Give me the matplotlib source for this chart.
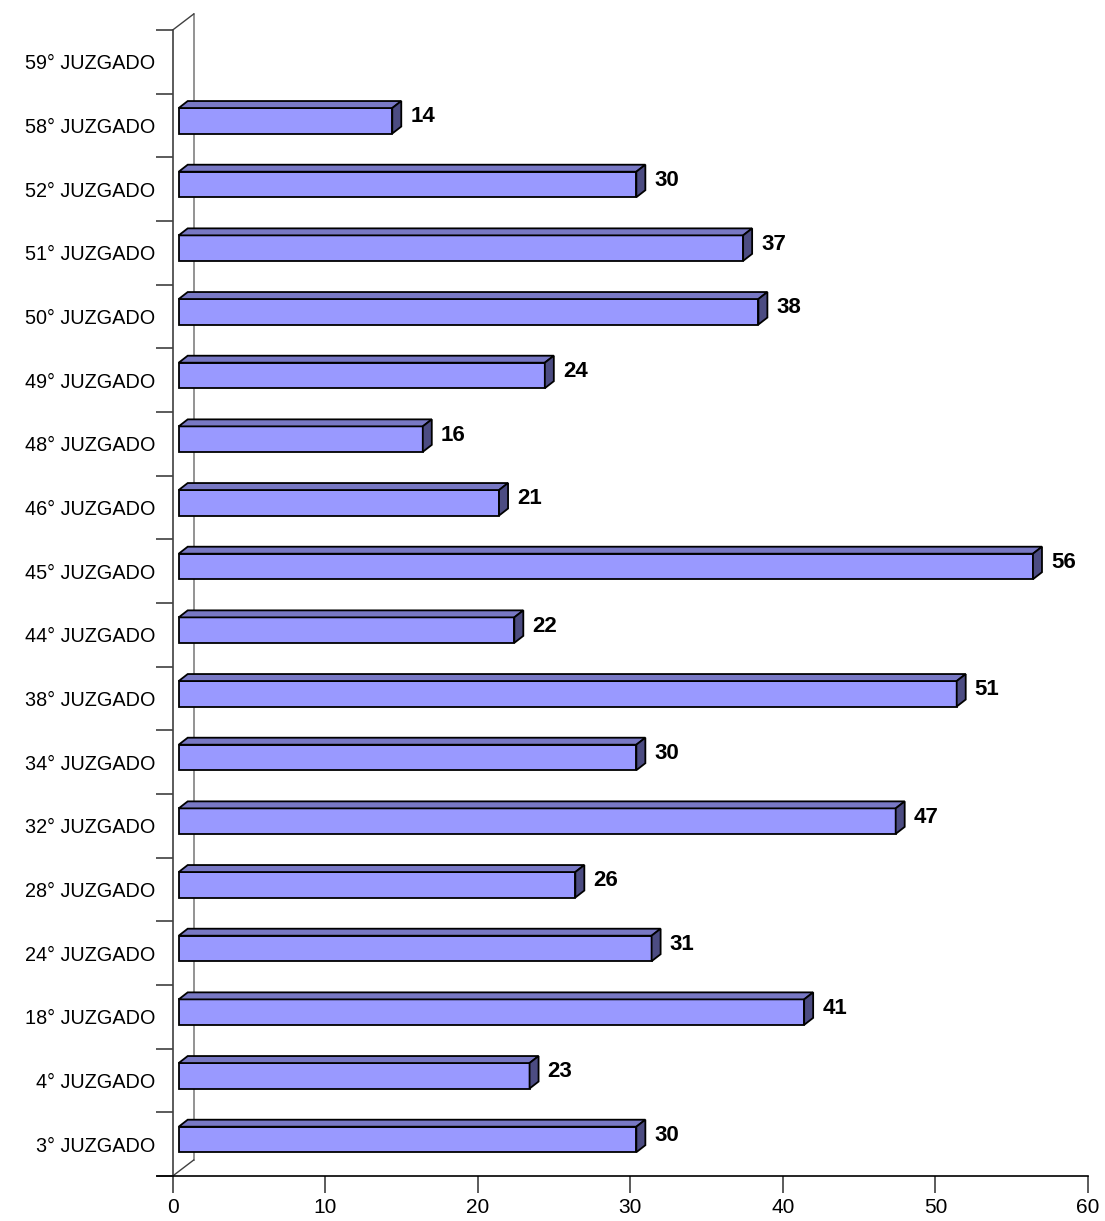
import matplotlib
matplotlib.use("Agg")
import matplotlib.pyplot as plt
from matplotlib.ticker import FixedLocator, NullFormatter

categories = ["3° JUZGADO", "4° JUZGADO", "18° JUZGADO", "24° JUZGADO", "28° JUZGADO",
              "32° JUZGADO", "34° JUZGADO", "38° JUZGADO", "44° JUZGADO", "45° JUZGADO",
              "46° JUZGADO", "48° JUZGADO", "49° JUZGADO", "50° JUZGADO", "51° JUZGADO",
              "52° JUZGADO", "58° JUZGADO", "59° JUZGADO"]
values = [30, 23, 41, 31, 26, 47, 30, 51, 22, 56, 21, 16, 24, 38, 37, 30, 14, None]
xticks = [0, 10, 20, 30, 40, 50, 60]

plt.rcParams['font.family'] = ['Liberation Sans', 'DejaVu Sans']

W, H = 1105, 1221
fig = plt.figure(figsize=(W / 100, H / 100), dpi=100)
ax_l, ax_r, ax_b, ax_t = 172.7, 1088.0, 1176.0, 30.0
ax = fig.add_axes([ax_l / W, (H - ax_b) / H, (ax_r - ax_l) / W, (ax_b - ax_t) / H])

n = len(categories)
ax.set_xlim(0, 60)
ax.set_ylim(0, n)
pxx = (ax_r - ax_l) / 60.0
pxy = (ax_b - ax_t) / n

# 3D geometry (in pixels -> data)
wall_dx, wall_dy = 21 / pxx, 16 / pxy
front_dx = 6 / pxx
bar_c = 0.574
bar_h = 25.5 / pxy
dep_dx, dep_dy = 9 / pxx, 7 / pxy

front_col = '#9999FF'
top_col = '#7878C4'
side_col = '#4C4C82'
ec = 'black'
lw = 1.3

# back wall and floor/top diagonals
ax.plot([wall_dx, wall_dx], [wall_dy, n + wall_dy], color='#808080', lw=1.2, clip_on=False, zorder=1)
ax.plot([0, wall_dx], [n, n + wall_dy], color='#404040', lw=1.0, clip_on=False, zorder=1)
ax.plot([0, wall_dx], [0, wall_dy], color='#404040', lw=1.0, clip_on=False, zorder=1)

for i, v in enumerate(values):
    if v is None:
        continue
    x0 = front_dx
    x1 = front_dx + v
    yb = i + bar_c - bar_h / 2
    yt = i + bar_c + bar_h / 2
    ax.fill([x0, x1, x1, x0], [yb, yb, yt, yt], facecolor=front_col, edgecolor=ec, lw=lw,
            clip_on=False, zorder=3, joinstyle='miter')
    ax.fill([x0, x1, x1 + dep_dx, x0 + dep_dx], [yt, yt, yt + dep_dy, yt + dep_dy],
            facecolor=top_col, edgecolor=ec, lw=lw, clip_on=False, zorder=3, joinstyle='miter')
    ax.fill([x1, x1 + dep_dx, x1 + dep_dx, x1], [yb, yb + dep_dy, yt + dep_dy, yt],
            facecolor=side_col, edgecolor=ec, lw=lw, clip_on=False, zorder=3, joinstyle='miter')
    ax.text(x1 + dep_dx + 9 / pxx, i + bar_c + 0.06, str(v), ha='left', va='center',
            fontsize=16, fontweight='bold', color='black', zorder=4)

for s in ['top', 'right']:
    ax.spines[s].set_visible(False)
ax.spines['left'].set_color('#404040')
ax.spines['left'].set_linewidth(1.2)
ax.spines['bottom'].set_color('black')
ax.spines['bottom'].set_linewidth(1.2)
ax.spines['bottom'].set_bounds(-16 / pxx, 60)

ax.set_xticks(xticks)
ax.set_xticklabels([str(t) for t in xticks], fontsize=15)
ax.tick_params(axis='x', direction='out', length=12, width=1.2, color='#404040', pad=4)

ax.yaxis.set_major_locator(FixedLocator(list(range(n + 1))))
ax.yaxis.set_major_formatter(NullFormatter())
ax.yaxis.set_minor_locator(FixedLocator([i + 0.5 for i in range(n)]))
ax.set_yticklabels(categories, minor=True, fontsize=14.3)
ax.tick_params(axis='y', which='major', direction='out', length=12.5, width=1.2, color='#404040')
ax.tick_params(axis='y', which='minor', length=0, pad=12.5)

fig.savefig('out.png', dpi=100)
